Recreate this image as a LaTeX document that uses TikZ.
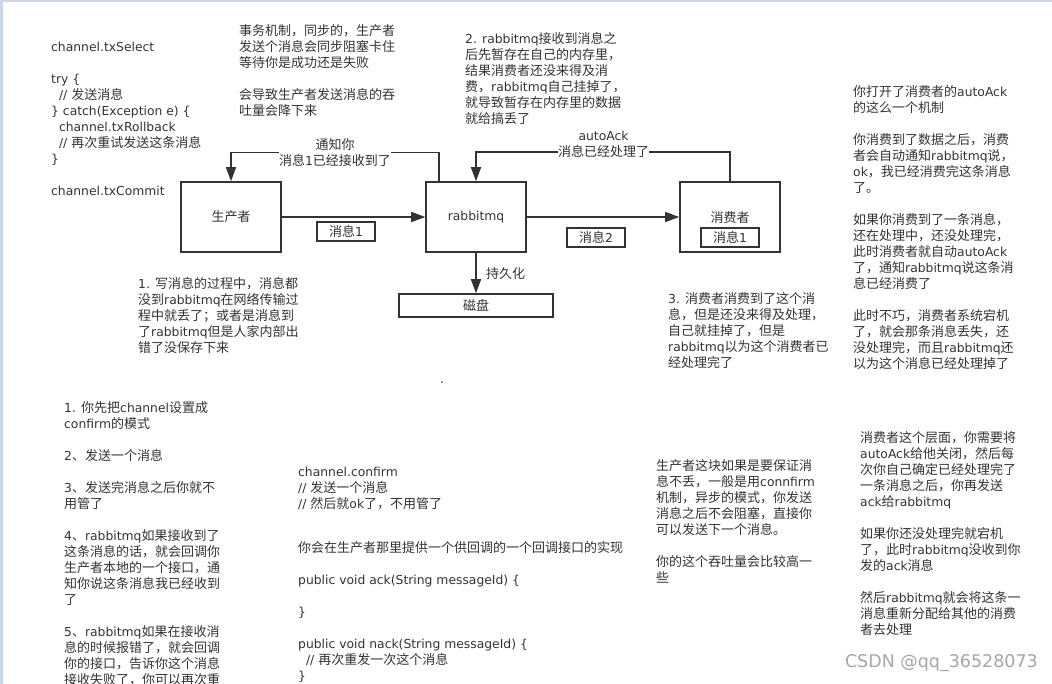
\documentclass[tikz,border=0pt]{standalone}
\usepackage{fontspec}
\usetikzlibrary{arrows.meta,positioning}
\setmainfont[Scale=0.95]{DejaVu Sans}
\newfontfamily\latinfont[Scale=0.95]{DejaVu Sans}
\newfontfamily\cjkfont{Noto Sans CJK SC}
% chinese runs switch font by themselves
\newXeTeXintercharclass\cjkclass
\count255="2E80
\loop\ifnum\count255<"A000 \XeTeXcharclass\count255=\cjkclass \advance\count255 by 1 \repeat
\count255="FF00
\loop\ifnum\count255<"FFF0 \XeTeXcharclass\count255=\cjkclass \advance\count255 by 1 \repeat
\XeTeXinterchartokenstate=1
\XeTeXinterchartoks 0 \cjkclass={\cjkfont}
\XeTeXinterchartoks 4095 \cjkclass={\cjkfont}
\XeTeXinterchartoks \cjkclass 0={\latinfont}
\XeTeXinterchartoks 4095 0={\latinfont}
\definecolor{ink}{HTML}{333333}
\definecolor{edge}{HTML}{CBD6E8}
\begin{document}
\begin{tikzpicture}[x=1pt,y=-1pt,>={Triangle[length=14pt,width=10pt]},
	txt/.style={font=\fontsize{13}{16}\selectfont,text=ink,inner sep=0pt},
	note/.style={txt,anchor=north west,align=left,execute at begin node=\strut},
	mainbox/.style={txt,draw=ink,line width=1.6pt,minimum width=100pt,minimum height=70pt},
	tagbox/.style={txt,draw=ink,line width=1.6pt,minimum width=58pt,minimum height=19pt},
	flow/.style={draw=ink,line width=1.6pt,->},
	wire/.style={draw=ink,line width=1.6pt}]
	\useasboundingbox (0,0) rectangle (1052,684);
	\fill[edge] (0,0) rectangle (1052,684);
	\fill[white] (3,2) rectangle (1052,684);
	% the boxes
	\node[mainbox] (producer) at (231,217) {生产者};
	\node[mainbox] (rabbit) at (476,217) {rabbitmq};
	\node[mainbox] (consumer) at (730,217) {};
	\node[txt] (consumerlabel) at (730,218) {消费者};
	\node[mainbox,minimum width=154pt,minimum height=23pt] (disk) at (476,305.5) {磁盘};
	\foreach \X/\T [count=\Y] in {(346,231.5)/消息1,(596,237.5)/消息2,(730,237.5)/消息1}
	{\node[tagbox] (tag\Y) at \X {\T};}
	% labels sitting on the return lines
	\node[txt,align=center] (notify) at (335,152.5) {通知你\\消息1已经接收到了};
	\node[txt] (done) at (603.5,152) {消息已经处理了};
	\node[txt,above=5pt of done] (autoack) {autoAck};
	\node[txt,right=10pt of rabbit.south,yshift=-21pt,anchor=west] (persist) {持久化};
	% connectors
	\draw[flow] (producer) -- (rabbit);
	\draw[flow] (rabbit) -- (consumer);
	\draw[flow] (rabbit) -- (disk);
	\draw[wire] ([xshift=-37pt]rabbit.north) |- (notify.east);
	\draw[flow] (notify.west) -| (producer.north);
	\draw[wire] (consumer.north) |- (done.east);
	\draw[flow] (done.west) -| (rabbit.north);
	% the notes
	\node[note] (txnote) at (51,42) {channel.txSelect\\[16pt]try \{\\\ \ // 发送消息\\\} catch(Exception e) \{\\\ \ channel.txRollback\\\ \ // 再次重试发送这条消息\\\}\\[16pt]channel.txCommit};
	\node[note] (syncnote) at (239,24) {事务机制，同步的，生产者\\发送个消息会同步阻塞卡住\\等待你是成功还是失败\\[16pt]会导致生产者发送消息的吞\\吐量会降下来};
	\node[note] (lostone) at (138,277) {1. 写消息的过程中，消息都\\没到rabbitmq在网络传输过\\程中就丢了；或者是消息到\\了rabbitmq但是人家内部出\\错了没保存下来};
	\node[note] (losttwo) at (465,32) {2. rabbitmq接收到消息之\\后先暂存在自己的内存里，\\结果消费者还没来得及消\\费，rabbitmq自己挂掉了，\\就导致暂存在内存里的数据\\就给搞丢了};
	\node[note] (lostthree) at (668,292) {3. 消费者消费到了这个消\\息，但是还没来得及处理，\\自己就挂掉了，但是\\rabbitmq以为这个消费者已\\经处理完了};
	\node[note] (autonote) at (853,85) {你打开了消费者的autoAck\\的这么一个机制\\[16pt]你消费到了数据之后，消费\\者会自动通知rabbitmq说，\\ok，我已经消费完这条消息\\了。\\[16pt]如果你消费到了一条消息，\\还在处理中，还没处理完，\\此时消费者就自动autoAck\\了，通知rabbitmq说这条消\\息已经消费了\\[16pt]此时不巧，消费者系统宕机\\了，就会那条消息丢失，还\\没处理完，而且rabbitmq还\\以为这个消息已经处理掉了};
	\node[txt] (dot) at (442,383) {.};
	\node[note] (stepnote) at (64,401) {1. 你先把channel设置成\\confirm的模式\\[16pt]2、发送一个消息\\[16pt]3、发送完消息之后你就不\\用管了\\[16pt]4、rabbitmq如果接收到了\\这条消息的话，就会回调你\\生产者本地的一个接口，通\\知你说这条消息我已经收到\\了\\[16pt]5、rabbitmq如果在接收消\\息的时候报错了，就会回调\\你的接口，告诉你这个消息\\接收失败了，你可以再次重};
	\node[note] (codenote) at (298,467) {channel.confirm\\// 发送一个消息\\// 然后就ok了，不用管了\\[28pt]你会在生产者那里提供一个供回调的一个回调接口的实现\\[16pt]public void ack(String messageId) \{\\[16pt]\}\\[16pt]public void nack(String messageId) \{\\\ \ // 再次重发一次这个消息\\\}};
	\node[note] (confirmnote) at (656,459) {生产者这块如果是要保证消\\息不丢，一般是用connfirm\\机制，异步的模式，你发送\\消息之后不会阻塞，直接你\\可以发送下一个消息。\\[16pt]你的这个吞吐量会比较高一\\些};
	\node[note] (acknote) at (860,431) {消费者这个层面，你需要将\\autoAck给他关闭，然后每\\次你自己确定已经处理完了\\一条消息之后，你再发送\\ack给rabbitmq\\[16pt]如果你还没处理完就宕机\\了，此时rabbitmq没收到你\\发的ack消息\\[16pt]然后rabbitmq就会将这条一\\消息重新分配给其他的消费\\者去处理};
	\node[txt,text=black!35,font=\fontsize{18.4}{20}\selectfont,anchor=east] (mark) at (1038,663) {CSDN @qq\_36528073};
\end{tikzpicture}
\end{document}
